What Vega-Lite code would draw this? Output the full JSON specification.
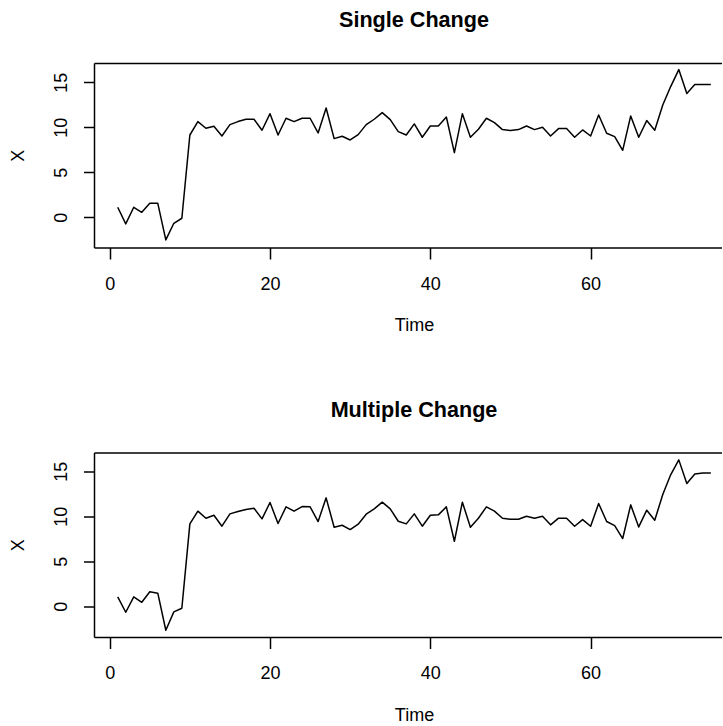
{
  "$schema": "https://vega.github.io/schema/vega-lite/v6.json",
  "background": "white",
  "padding": {"left": 9, "top": 10, "right": 0, "bottom": 0},
  "datasets": {
    "single": [
      {"time": 1, "value": 1.11}, {"time": 2, "value": -0.74}, {"time": 3, "value": 1.11}, {"time": 4, "value": 0.55}, {"time": 5, "value": 1.55},
      {"time": 6, "value": 1.55}, {"time": 7, "value": -2.52}, {"time": 8, "value": -0.67}, {"time": 9, "value": -0.11}, {"time": 10, "value": 9.14},
      {"time": 11, "value": 10.63}, {"time": 12, "value": 9.89}, {"time": 13, "value": 10.11}, {"time": 14, "value": 9.03}, {"time": 15, "value": 10.29},
      {"time": 16, "value": 10.63}, {"time": 17, "value": 10.89}, {"time": 18, "value": 10.89}, {"time": 19, "value": 9.67}, {"time": 20, "value": 11.51},
      {"time": 21, "value": 9.14}, {"time": 22, "value": 11.0}, {"time": 23, "value": 10.63}, {"time": 24, "value": 11.0}, {"time": 25, "value": 11.0},
      {"time": 26, "value": 9.37}, {"time": 27, "value": 12.14}, {"time": 28, "value": 8.74}, {"time": 29, "value": 9.0}, {"time": 30, "value": 8.59},
      {"time": 31, "value": 9.18}, {"time": 32, "value": 10.29}, {"time": 33, "value": 10.89}, {"time": 34, "value": 11.63}, {"time": 35, "value": 10.85},
      {"time": 36, "value": 9.52}, {"time": 37, "value": 9.14}, {"time": 38, "value": 10.37}, {"time": 39, "value": 8.89}, {"time": 40, "value": 10.14},
      {"time": 41, "value": 10.14}, {"time": 42, "value": 11.14}, {"time": 43, "value": 7.18}, {"time": 44, "value": 11.51}, {"time": 45, "value": 8.89},
      {"time": 46, "value": 9.78}, {"time": 47, "value": 11.0}, {"time": 48, "value": 10.51}, {"time": 49, "value": 9.74}, {"time": 50, "value": 9.63},
      {"time": 51, "value": 9.74}, {"time": 52, "value": 10.14}, {"time": 53, "value": 9.74}, {"time": 54, "value": 10.0}, {"time": 55, "value": 9.03},
      {"time": 56, "value": 9.85}, {"time": 57, "value": 9.85}, {"time": 58, "value": 8.89}, {"time": 59, "value": 9.7}, {"time": 60, "value": 9.03},
      {"time": 61, "value": 11.37}, {"time": 62, "value": 9.33}, {"time": 63, "value": 8.96}, {"time": 64, "value": 7.44}, {"time": 65, "value": 11.26},
      {"time": 66, "value": 8.89}, {"time": 67, "value": 10.74}, {"time": 68, "value": 9.67}, {"time": 69, "value": 12.48}, {"time": 70, "value": 14.55},
      {"time": 71, "value": 16.41}, {"time": 72, "value": 13.74}, {"time": 73, "value": 14.74}, {"time": 74, "value": 14.74}, {"time": 75, "value": 14.74}
    ],
    "multiple": [
      {"time": 1, "value": 1.04}, {"time": 2, "value": -0.67}, {"time": 3, "value": 1.04}, {"time": 4, "value": 0.44}, {"time": 5, "value": 1.6},
      {"time": 6, "value": 1.45}, {"time": 7, "value": -2.67}, {"time": 8, "value": -0.63}, {"time": 9, "value": -0.22}, {"time": 10, "value": 9.15},
      {"time": 11, "value": 10.56}, {"time": 12, "value": 9.78}, {"time": 13, "value": 10.11}, {"time": 14, "value": 8.89}, {"time": 15, "value": 10.26},
      {"time": 16, "value": 10.52}, {"time": 17, "value": 10.74}, {"time": 18, "value": 10.89}, {"time": 19, "value": 9.71}, {"time": 20, "value": 11.52},
      {"time": 21, "value": 9.19}, {"time": 22, "value": 11.04}, {"time": 23, "value": 10.56}, {"time": 24, "value": 11.07}, {"time": 25, "value": 11.05},
      {"time": 26, "value": 9.41}, {"time": 27, "value": 12.04}, {"time": 28, "value": 8.78}, {"time": 29, "value": 9.0}, {"time": 30, "value": 8.52},
      {"time": 31, "value": 9.11}, {"time": 32, "value": 10.22}, {"time": 33, "value": 10.82}, {"time": 34, "value": 11.56}, {"time": 35, "value": 10.82},
      {"time": 36, "value": 9.44}, {"time": 37, "value": 9.15}, {"time": 38, "value": 10.26}, {"time": 39, "value": 8.89}, {"time": 40, "value": 10.11},
      {"time": 41, "value": 10.15}, {"time": 42, "value": 11.04}, {"time": 43, "value": 7.22}, {"time": 44, "value": 11.56}, {"time": 45, "value": 8.78},
      {"time": 46, "value": 9.78}, {"time": 47, "value": 11.04}, {"time": 48, "value": 10.56}, {"time": 49, "value": 9.78}, {"time": 50, "value": 9.67},
      {"time": 51, "value": 9.67}, {"time": 52, "value": 10.0}, {"time": 53, "value": 9.78}, {"time": 54, "value": 10.0}, {"time": 55, "value": 9.04},
      {"time": 56, "value": 9.78}, {"time": 57, "value": 9.78}, {"time": 58, "value": 8.89}, {"time": 59, "value": 9.63}, {"time": 60, "value": 8.89},
      {"time": 61, "value": 11.41}, {"time": 62, "value": 9.41}, {"time": 63, "value": 8.96}, {"time": 64, "value": 7.52}, {"time": 65, "value": 11.26},
      {"time": 66, "value": 8.81}, {"time": 67, "value": 10.67}, {"time": 68, "value": 9.56}, {"time": 69, "value": 12.41}, {"time": 70, "value": 14.63},
      {"time": 71, "value": 16.26}, {"time": 72, "value": 13.63}, {"time": 73, "value": 14.7}, {"time": 74, "value": 14.81}, {"time": 75, "value": 14.81}
    ]
  },
  "bounds": "flush",
  "spacing": 204.5,
  "vconcat": [
    {
      "width": 628,
      "height": 184.5,
      "title": {"text": "Single Change", "font": "Liberation Sans", "fontSize": 21.6, "fontWeight": "bold", "color": "black", "anchor": "middle", "frame": "group", "dx": 6, "offset": 14, "baseline": "alphabetic"},
      "data": {"name": "single"},
      "layer": [
        {
          "mark": {"type": "line", "color": "black", "strokeWidth": 1.5, "strokeJoin": "round"},
          "encoding": {
            "x": {"field": "time", "type": "quantitative", "scale": {"domain": [-1.96, 76.39], "nice": false, "zero": false},
              "axis": {"orient": "bottom", "values": [0, 20, 40, 60], "tickSize": 11.5, "labelPadding": 16.2, "title": "Time", "titleX": 320, "titleY": 69, "titleBaseline": "top", "titleAlign": "center"}},
            "y": {"field": "value", "type": "quantitative", "scale": {"domain": [-3.36, 17.14], "nice": false, "zero": false},
              "axis": {"values": [0, 5, 10, 15], "tickSize": 10.5, "labelPadding": 22.5, "labelAngle": 270, "labelAlign": "center", "labelBaseline": "middle", "title": "X", "titleX": -76, "titleY": 92.25, "titleAngle": 270, "titleAlign": "center", "titleBaseline": "middle"}}
          }
        },
        {
          "mark": {"type": "point", "opacity": 0},
          "encoding": {
            "x": {"field": "time", "type": "quantitative", "axis": {"orient": "top", "labels": false, "ticks": false, "domain": true, "title": null}},
            "y": {"field": "value", "type": "quantitative",
              "axis": {"values": [0, 5, 10, 15], "tickSize": 10.5, "labelPadding": 22.5, "labelAngle": 270, "labelAlign": "center", "labelBaseline": "middle", "title": "X", "titleX": -76, "titleY": 92.25, "titleAngle": 270, "titleAlign": "center", "titleBaseline": "middle"}}
          }
        }
      ],
      "resolve": {"axis": {"x": "independent"}}
    },
    {
      "width": 628,
      "height": 184.5,
      "title": {"text": "Multiple Change", "font": "Liberation Sans", "fontSize": 21.6, "fontWeight": "bold", "color": "black", "anchor": "middle", "frame": "group", "dx": 6, "offset": 14, "baseline": "alphabetic"},
      "data": {"name": "multiple"},
      "layer": [
        {
          "mark": {"type": "line", "color": "black", "strokeWidth": 1.5, "strokeJoin": "round"},
          "encoding": {
            "x": {"field": "time", "type": "quantitative", "scale": {"domain": [-1.96, 76.39], "nice": false, "zero": false},
              "axis": {"orient": "bottom", "values": [0, 20, 40, 60], "tickSize": 11.5, "labelPadding": 16.2, "title": "Time", "titleX": 320, "titleY": 69, "titleBaseline": "top", "titleAlign": "center"}},
            "y": {"field": "value", "type": "quantitative", "scale": {"domain": [-3.42, 17.08], "nice": false, "zero": false},
              "axis": {"values": [0, 5, 10, 15], "tickSize": 10.5, "labelPadding": 22.5, "labelAngle": 270, "labelAlign": "center", "labelBaseline": "middle", "title": "X", "titleX": -76, "titleY": 92.25, "titleAngle": 270, "titleAlign": "center", "titleBaseline": "middle"}}
          }
        },
        {
          "mark": {"type": "point", "opacity": 0},
          "encoding": {
            "x": {"field": "time", "type": "quantitative", "axis": {"orient": "top", "labels": false, "ticks": false, "domain": true, "title": null}},
            "y": {"field": "value", "type": "quantitative",
              "axis": {"values": [0, 5, 10, 15], "tickSize": 10.5, "labelPadding": 22.5, "labelAngle": 270, "labelAlign": "center", "labelBaseline": "middle", "title": "X", "titleX": -76, "titleY": 92.25, "titleAngle": 270, "titleAlign": "center", "titleBaseline": "middle"}}
          }
        }
      ],
      "resolve": {"axis": {"x": "independent"}}
    }
  ],
  "config": {
    "font": "Liberation Sans",
    "view": {"stroke": null},
    "axis": {
      "grid": false,
      "labelFont": "Liberation Sans",
      "labelFontSize": 18,
      "labelColor": "black",
      "labelFlush": false,
      "labelOverlap": false,
      "titleFont": "Liberation Sans",
      "titleFontSize": 18,
      "titleFontWeight": "normal",
      "titleColor": "black",
      "domainColor": "black",
      "domainWidth": 1.5,
      "tickColor": "black",
      "tickWidth": 1.5
    }
  }
}
